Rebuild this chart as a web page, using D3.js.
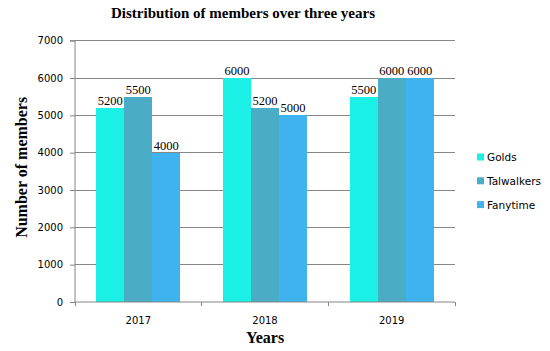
<!DOCTYPE html>
<html><head><meta charset="utf-8">
<script src="https://cdn.jsdelivr.net/npm/d3@7"></script>
<style>body{margin:0;background:#fff}</style>
</head><body>
<svg id="c" width="550" height="351"></svg>
<script>
const years = ["2017","2018","2019"];
const seriesNames = ["Golds","Talwalkers","Fanytime"];
const golds = [5200,6000,5500];
const talwalkers = [5500,5200,6000];
const fanytime = [4000,5000,6000];
const yTicks = [0,1000,2000,3000,4000,5000,6000,7000];
const colors = ["#1af0e6","#4bacc6","#3fb3ef"];

const svg = d3.select("#c");
const m = {l:75, r:455, t:40.7, b:302};
const x = d3.scaleBand().domain(years).range([m.l,m.r]).paddingInner(0).paddingOuter(0);
const xs = d3.scaleBand().domain(seriesNames).range([0,x.bandwidth()]).paddingInner(0).paddingOuter(0.76);
const y = d3.scaleLinear().domain([0,7000]).range([m.b,m.t]);
const values = [golds,talwalkers,fanytime];
const grey = "#868686";

// gridlines
svg.append("g").selectAll("line").data(yTicks.filter(d=>d>0)).join("line")
  .attr("x1",m.l).attr("x2",m.r).attr("y1",d=>y(d)).attr("y2",d=>y(d))
  .attr("stroke",grey).attr("stroke-width",1).attr("shape-rendering","crispEdges");

// bars
seriesNames.forEach((s,si)=>{
  svg.append("g").selectAll("rect").data(years).join("rect")
    .attr("x",d=>x(d)+xs(s)).attr("width",xs.bandwidth())
    .attr("y",(d,i)=>y(values[si][i])).attr("height",(d,i)=>m.b-y(values[si][i]))
    .attr("fill",colors[si]).attr("shape-rendering","crispEdges");
  svg.append("g").selectAll("text").data(years).join("text")
    .attr("x",d=>x(d)+xs(s)+xs.bandwidth()/2)
    .attr("y",(d,i)=>y(values[si][i])-3)
    .attr("text-anchor","middle")
    .attr("font-family","Liberation Serif, Times New Roman, serif").attr("font-size",12.5)
    .attr("fill","#000").text((d,i)=>values[si][i]);
});

// y axis
const ya = d3.axisLeft(y).tickValues(yTicks).tickSize(5).tickPadding(7).tickFormat(d3.format("d"));
const gy = svg.append("g").attr("transform",`translate(${m.l},0)`).call(ya);
gy.select(".domain").attr("stroke",grey).attr("d",`M-5,${m.t}H0V${m.b}`);
gy.selectAll(".tick line").attr("stroke",grey);
gy.selectAll("text").attr("font-family","DejaVu Sans, Verdana, sans-serif").attr("font-size",10).attr("fill","#000");

// x axis
const xa = d3.axisBottom(x).tickSize(0).tickPadding(15);
const gx = svg.append("g").attr("transform",`translate(0,${m.b})`).call(xa);
gx.select(".domain").attr("stroke",grey).attr("d",`M${m.l},0H${m.r}`);
gx.selectAll("text").attr("font-family","DejaVu Sans, Verdana, sans-serif").attr("font-size",10).attr("fill","#000");
svg.append("g").selectAll("line").data(years.map(d=>x(d)).concat([m.r])).join("line")
  .attr("x1",d=>d).attr("x2",d=>d).attr("y1",m.b).attr("y2",m.b+4)
  .attr("stroke",grey).attr("shape-rendering","crispEdges");

// titles
svg.append("text").attr("x",243).attr("y",18).attr("text-anchor","middle")
  .attr("font-family","Liberation Serif, Times New Roman, serif").attr("font-weight","bold").attr("font-size",15)
  .text("Distribution of members over three years");
svg.append("text").attr("x",(m.l+m.r)/2).attr("y",343).attr("text-anchor","middle")
  .attr("font-family","Liberation Serif, Times New Roman, serif").attr("font-weight","bold").attr("font-size",16)
  .text("Years");
svg.append("text").attr("transform",`translate(27,${(m.t+m.b)/2-4}) rotate(-90)`).attr("text-anchor","middle")
  .attr("font-family","Liberation Serif, Times New Roman, serif").attr("font-weight","bold").attr("font-size",16)
  .text("Number of members");

// legend
const lg = svg.append("g").selectAll("g").data(seriesNames).join("g")
  .attr("transform",(d,i)=>`translate(477,${157+i*23.8})`);
lg.append("rect").attr("x",0).attr("y",-3.5).attr("width",7).attr("height",7).attr("fill",(d,i)=>colors[i]);
lg.append("text").attr("x",10).attr("y",4).attr("font-family","DejaVu Sans, Verdana, sans-serif").attr("font-size",10.5)
  .attr("fill","#000").text(d=>d);
</script>
</body></html>
